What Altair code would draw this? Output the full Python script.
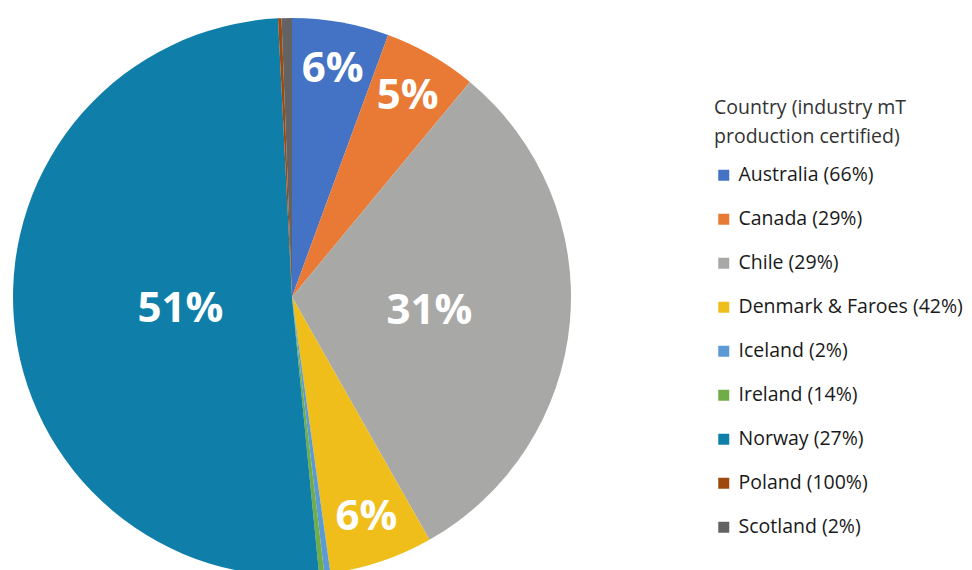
import altair as alt
import pandas as pd

countries = ["Australia", "Canada", "Chile", "Denmark & Faroes", "Iceland",
             "Ireland", "Norway", "Poland", "Scotland"]
certified = [66, 29, 29, 42, 2, 14, 27, 100, 2]
share = [5.6, 5.4, 30.8, 6.0, 0.35, 0.3, 50.75, 0.2, 0.6]
colors = ["#4472C4", "#E97A35", "#A8A9A7", "#F0BE1A", "#5B9BD5",
          "#70AD47", "#0F7FAA", "#9E480E", "#636363"]

legend_labels = [f"{c} ({p}%)" for c, p in zip(countries, certified)]
df = pd.DataFrame({
    "idx": list(range(len(countries))),
    "country": legend_labels,
    "share": share,
})

FONT = "Open Sans"
CX, CY, R = 284, 289, 279

base = alt.Chart(df).encode(
    theta=alt.Theta("share:Q", stack=True),
    order=alt.Order("idx:Q", sort="ascending"),
)

arc = base.mark_arc(radius=R, x=CX, y=CY, stroke=None).encode(
    color=alt.Color(
        "country:N",
        scale=alt.Scale(domain=legend_labels, range=colors),
        sort=legend_labels,
        legend=alt.Legend(
            title=["Country (industry mT", "production certified)"],
            orient="none",
            legendX=706,
            legendY=91,
            symbolType="square",
            symbolSize=121,
            symbolStrokeWidth=0,
            labelFont=FONT,
            labelFontSize=19.5,
            labelColor="#1a1a1a",
            labelLimit=400,
            labelOffset=5,
            rowPadding=23,
            titleFont=FONT,
            titleFontSize=19.5,
            titleFontWeight="normal",
            titleColor="#333333",
            titleLineHeight=29,
            titlePadding=18,
            titleLimit=400,
        ),
    )
)

big = base.transform_calculate(
    label="datum.share >= 20 ? format(round(datum.share), 'd') + '%' : ''"
).mark_text(
    radius=125, x=CX, y=CY, dx=13, dy=3, font=FONT, fontSize=42,
    fontWeight="bold", color="white"
).encode(text="label:N")

small = base.transform_calculate(
    label="datum.share >= 5 && datum.share < 20 ? format(round(datum.share), 'd') + '%' : ''"
).mark_text(
    radius=232, x=CX, y=CY, font=FONT, fontSize=42, fontWeight="bold",
    color="white"
).encode(text="label:N")

chart = alt.layer(arc, big, small).properties(
    width=568, height=554, padding=0
).configure_view(stroke=None)

chart.save("out.html", embed_options={"renderer": "svg", "actions": False})
